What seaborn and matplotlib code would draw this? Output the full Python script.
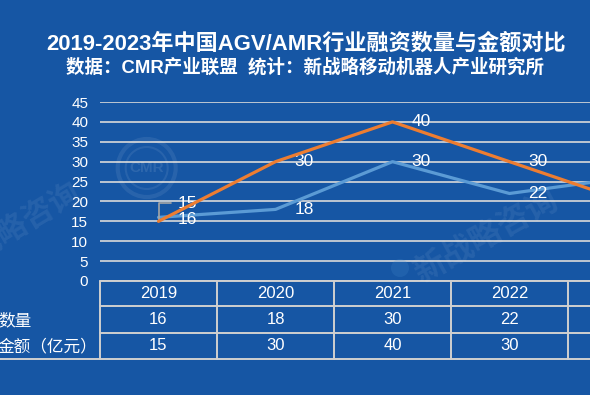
import matplotlib
matplotlib.use('Agg')
import matplotlib.pyplot as plt
import seaborn as sns
import pandas as pd
from matplotlib.patches import Circle
from matplotlib.lines import Line2D
import matplotlib.transforms as mtransforms

# data
years = ['2019', '2020', '2021', '2022', '2023']
deal_count = [16, 18, 30, 22, 26]
deal_amount = [15, 30, 40, 30, 20]
row_labels = ['数量', '金额（亿元）']
title = '2019-2023年中国AGV/AMR行业融资数量与金额对比'
subtitle = '数据：CMR产业联盟  统计：新战略移动机器人产业研究所'

BG = '#1656A4'
BLUE = '#5B9BD5'
ORANGE = '#ED7D31'
GRID = '#D9D9D9'

sns.set_style('white')
plt.rcParams['font.family'] = ['Liberation Sans', 'Noto Sans CJK SC', 'DejaVu Sans']

df = pd.DataFrame({'pos': range(len(years)), 'count': deal_count, 'amount': deal_amount})

W, H = 590, 395
fig = plt.figure(figsize=(W / 100, H / 100), dpi=100, facecolor=BG)

# axes: left edge at x=100px, zero at y=281px, 45 at y=102px; runs past the right edge
ax = fig.add_axes([100 / W, (H - 281) / H, 585 / W, 179 / H])
ax.set_facecolor(BG)
for s in ax.spines.values():
    s.set_visible(False)

# faint watermarks
fig.text(13 / W, 1 - 230 / H, '新战略咨询', rotation=31, fontsize=22, color='white',
         alpha=0.07, ha='center', va='center', weight='bold')
fig.text(487 / W, 1 - 237 / H, '新战略咨询', rotation=29, fontsize=23, color='white',
         alpha=0.07, ha='center', va='center', weight='bold')
for r, lw in [(0.29, 3), (0.21, 1.5)]:
    fig.add_artist(Circle((1.467, (H - 168) / 100), r, transform=fig.dpi_scale_trans,
                          fill=False, ec='white', lw=lw, alpha=0.08))
fig.text(146.7 / W, 1 - 168 / H, 'CMR', fontsize=11, color='white', alpha=0.1,
         ha='center', va='center', weight='bold')
fig.add_artist(Circle((4.0, (H - 268) / 100), 0.09, transform=fig.dpi_scale_trans,
                      fc='#4a8fd0', ec='none', alpha=0.2))

sns.lineplot(data=df, x='pos', y='count', color=BLUE, lw=2.3, ax=ax, zorder=3)
sns.lineplot(data=df, x='pos', y='amount', color=ORANGE, lw=2.3, ax=ax, zorder=4)

ax.set_xlim(-0.5, 4.5)
ax.set_ylim(0, 45)
ax.set_yticks(range(0, 46, 5))
ax.yaxis.grid(True, color=GRID, lw=1.2)
ax.xaxis.grid(False)
ax.set_xticks([])
ax.set_xlabel('')
ax.set_ylabel('')
ax.tick_params(axis='y', length=0, pad=8.5, labelsize=11, labelcolor='white')

# data labels
for i, v in enumerate(deal_count):
    ax.annotate(str(v), (i, v), xytext=(19, -2 if i == 0 else 0), textcoords='offset pixels',
                ha='left', va='center', color='white', fontsize=12.5)
for i, v in enumerate(deal_amount):
    if i == 0:
        ax.annotate(str(v), (i, v), xytext=(19, 18), textcoords='offset pixels',
                    ha='left', va='center', color='white', fontsize=12.5)
        ax.annotate('', xy=(i, v), xytext=(12, 18), textcoords='offset pixels',
                    arrowprops=dict(arrowstyle='-', color='#A6A6A6', lw=1.2, shrinkA=0, shrinkB=0,
                                    connectionstyle='angle,angleA=0,angleB=90,rad=0'))
    else:
        ax.annotate(str(v), (i, v), xytext=(19, 0), textcoords='offset pixels',
                    ha='left', va='center', color='white', fontsize=12.5)

# data table under the plot
tr = mtransforms.blended_transform_factory(ax.transData, ax.transAxes)
def fy(py):
    return (281 - py) / 179

line_kw = dict(color='#D0D0D0', lw=1.4, clip_on=False)
row_edges = [281, 306, 333, 359]
row_mid = [294, 320, 346]
for py in row_edges[:-1]:
    ax.add_line(Line2D([-0.5, 4.5], [fy(py)] * 2, transform=tr, **line_kw))
fig.add_artist(Line2D([0, 1], [(H - 359) / H] * 2, color='#D0D0D0', lw=1.4))
for k in range(len(years) + 1):
    ax.add_line(Line2D([k - 0.5, k - 0.5], [fy(281), fy(359)], transform=tr, **line_kw))

for i, yr in enumerate(years):
    ax.text(i, fy(row_mid[0]), yr, transform=tr, ha='center', va='center',
            color='white', fontsize=12)
    ax.text(i, fy(row_mid[1]), str(deal_count[i]), transform=tr, ha='center', va='center',
            color='white', fontsize=12)
    ax.text(i, fy(row_mid[2]), str(deal_amount[i]), transform=tr, ha='center', va='center',
            color='white', fontsize=12)

for lab, py in zip(row_labels, row_mid[1:]):
    fig.text(-2 / W, 1 - py / H, lab, ha='left', va='center', color='white', fontsize=12)

# titles
fig.text(306 / W, 1 - 44 / H, title, ha='center', va='center', color='white',
         fontsize=15.9, weight='bold')
fig.text(305 / W, 1 - 67 / H, subtitle, ha='center', va='center', color='white',
         fontsize=13.3, weight='bold')

fig.savefig('out.png', dpi=100, facecolor=BG)
